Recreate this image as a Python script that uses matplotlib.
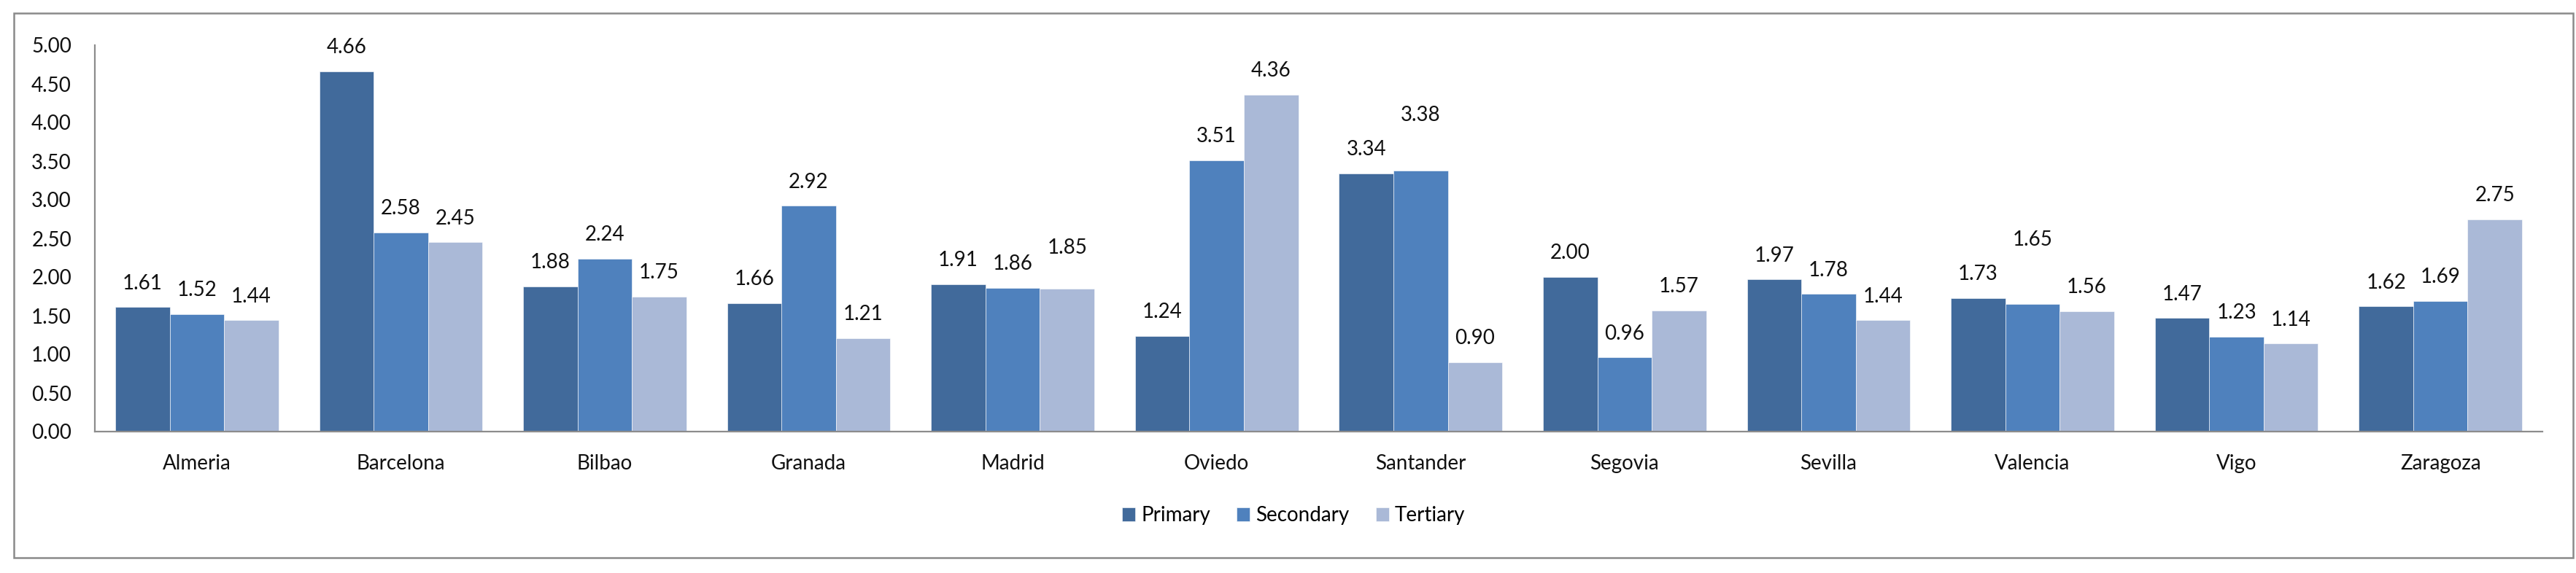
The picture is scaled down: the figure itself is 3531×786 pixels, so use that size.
import matplotlib
matplotlib.use("Agg")
import matplotlib.pyplot as plt
from matplotlib.patches import Rectangle
import numpy as np

cities = ["Almeria", "Barcelona", "Bilbao", "Granada", "Madrid", "Oviedo",
          "Santander", "Segovia", "Sevilla", "Valencia", "Vigo", "Zaragoza"]
series_names = ["Primary", "Secondary", "Tertiary"]
primary = [1.61, 4.66, 1.88, 1.66, 1.91, 1.24, 3.34, 2.00, 1.97, 1.73, 1.47, 1.62]
secondary = [1.52, 2.58, 2.24, 2.92, 1.86, 3.51, 3.38, 0.96, 1.78, 1.65, 1.23, 1.69]
tertiary = [1.44, 2.45, 1.75, 1.21, 1.85, 4.36, 0.90, 1.57, 1.44, 1.56, 1.14, 2.75]
y_ticks = [0.0, 0.5, 1.0, 1.5, 2.0, 2.5, 3.0, 3.5, 4.0, 4.5, 5.0]

colors = ["#416a9b", "#4f81bd", "#aab9d7"]

# extra lift (points) for a few labels that sit higher in the original
label_lift = {
    (2, 4): 16.5,   # Madrid tertiary
    (1, 6): 31.0,   # Santander secondary
    (1, 9): 40.0,   # Valencia secondary
}

W, H, DPI = 3531, 786, 100
plt.rcParams["font.family"] = ["Lato", "DejaVu Sans"]
fig = plt.figure(figsize=(W / DPI, H / DPI), dpi=DPI)
fig.patch.set_facecolor("white")

ax = fig.add_axes([130 / W, 1 - 592 / H, (3485 - 130) / W, (592 - 62) / H])

x = np.arange(len(cities))
bw = 0.8 / 3
all_series = [primary, secondary, tertiary]
for i, (name, vals, c) in enumerate(zip(series_names, all_series, colors)):
    pos = x + (i - 1) * bw
    bars = ax.bar(pos, vals, width=bw, color=c, edgecolor="#ffffff",
                  linewidth=0.4, label=name, zorder=2)
    for j, (p, v) in enumerate(zip(pos, vals)):
        off = 23.5 + label_lift.get((i, j), 0.0)
        ax.annotate(f"{v:.2f}", xy=(p, v), xytext=(0, off),
                    textcoords="offset points", ha="center", va="center",
                    fontsize=20, color="#111111")

ax.set_xlim(-0.5, len(cities) - 0.5)
ax.set_ylim(0, 5)
ax.set_yticks(y_ticks)
ax.set_yticklabels([f"{t:.2f}" for t in y_ticks])
ax.set_xticks(x)
ax.set_xticklabels(cities)
ax.tick_params(axis="y", length=0, pad=23, labelsize=20, labelcolor="#111111")
ax.tick_params(axis="x", length=0, pad=22, labelsize=20, labelcolor="#111111")
for s in ["top", "right"]:
    ax.spines[s].set_visible(False)
for s in ["left", "bottom"]:
    ax.spines[s].set_color("#8c8c8c")
    ax.spines[s].set_linewidth(1.6)

handles, labels = ax.get_legend_handles_labels()
fig.legend(handles, labels, loc="center", bbox_to_anchor=(1773 / W, 1 - 707 / H),
           ncol=3, frameon=False, fontsize=20, handlelength=0.65,
           handleheight=0.65, handletextpad=0.3, columnspacing=1.3)

frame = Rectangle((19 / W, 1 - 765 / H), (3527 - 19) / W, (765 - 18) / H,
                  transform=fig.transFigure, fill=False, edgecolor="#8a8a8a",
                  linewidth=1.8, zorder=0)
fig.patches.append(frame)

fig.savefig("out.png", dpi=DPI, facecolor="white")
